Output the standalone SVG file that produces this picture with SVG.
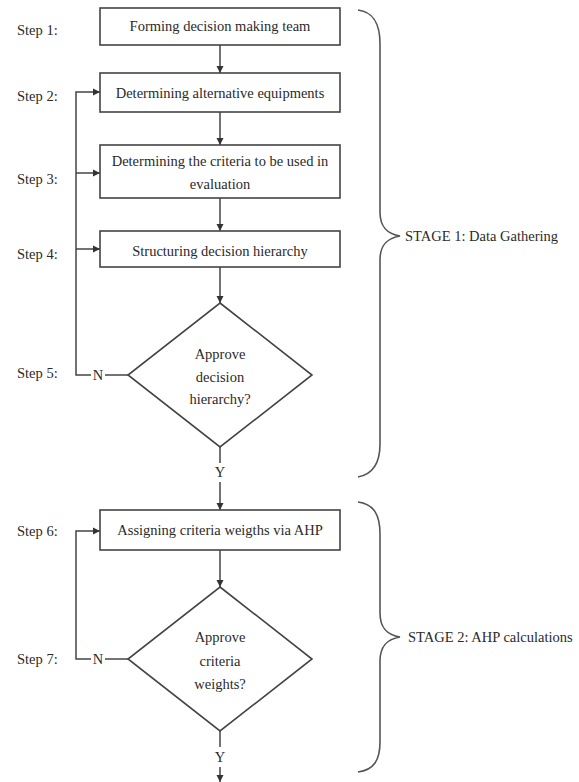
<svg xmlns="http://www.w3.org/2000/svg" width="579" height="782" viewBox="0 0 579 782">
<style>
.box{fill:#fff;stroke:#444;stroke-width:1.6}
.ln{fill:none;stroke:#444;stroke-width:1.5}
text{font-family:'Liberation Serif','Times New Roman',Times,serif;font-size:14.5px;fill:#2a2a2a}
.t{text-anchor:middle}
.br{fill:none;stroke:#555;stroke-width:1.6}
</style>
<defs>
<marker id="ah" markerWidth="8" markerHeight="8" refX="7" refY="4" orient="auto" markerUnits="userSpaceOnUse">
<path d="M0,0.5 L7,4 L0,7.5 Z" fill="#333"/>
</marker>
</defs>
<rect width="579" height="782" fill="#fff"/>
<g id="labels" font-family="Liberation Serif, serif">
<text x="17" y="35">Step 1:</text>
<text x="17" y="101">Step 2:</text>
<text x="17" y="184">Step 3:</text>
<text x="17" y="259">Step 4:</text>
<text x="17" y="378">Step 5:</text>
<text x="17" y="536">Step 6:</text>
<text x="17" y="664">Step 7:</text>
</g>
<g id="connectors">
<line class="ln" x1="220" y1="45" x2="220" y2="73" marker-end="url(#ah)"/>
<line class="ln" x1="220" y1="112" x2="220" y2="145" marker-end="url(#ah)"/>
<line class="ln" x1="220" y1="198" x2="220" y2="231" marker-end="url(#ah)"/>
<line class="ln" x1="220" y1="267" x2="220" y2="303" marker-end="url(#ah)"/>
<line class="ln" x1="220" y1="447" x2="220" y2="463"/>
<line class="ln" x1="220" y1="482" x2="220" y2="510" marker-end="url(#ah)"/>
<line class="ln" x1="220" y1="550" x2="220" y2="587" marker-end="url(#ah)"/>
<line class="ln" x1="220" y1="731" x2="220" y2="747"/>
<line class="ln" x1="220" y1="767" x2="220" y2="782" marker-end="url(#ah)"/>
<path class="ln" d="M91,375 H76 V92 H100" marker-end="url(#ah)"/>
<line class="ln" x1="76" y1="173" x2="100" y2="173" marker-end="url(#ah)"/>
<line class="ln" x1="76" y1="249" x2="100" y2="249" marker-end="url(#ah)"/>
<line class="ln" x1="105" y1="375" x2="128" y2="375"/>
<path class="ln" d="M91,659 H76 V531 H100" marker-end="url(#ah)"/>
<line class="ln" x1="105" y1="659" x2="128" y2="659"/>
<text class="t" x="98" y="380">N</text>
<text class="t" x="98" y="664">N</text>
<text class="t" x="220" y="477">Y</text>
<text class="t" x="220" y="762">Y</text>
</g>
<g id="step1">
<rect class="box" x="100" y="8" width="240" height="37"/>
<text class="t" x="220" y="31">Forming decision making team</text>
</g>
<g id="step2">
<rect class="box" x="100" y="73" width="240" height="39"/>
<text class="t" x="220" y="98">Determining alternative equipments</text>
</g>
<g id="step3">
<rect class="box" x="100" y="145" width="240" height="53"/>
<text class="t" x="220" y="166">Determining the criteria to be used in</text>
<text class="t" x="220" y="189">evaluation</text>
</g>
<g id="step4">
<rect class="box" x="100" y="231" width="240" height="36"/>
<text class="t" x="220" y="256">Structuring decision hierarchy</text>
</g>
<g id="step5">
<polygon class="box" points="220,303 312,375 220,447 128,375"/>
<text class="t" x="220" y="359">Approve</text>
<text class="t" x="220" y="382">decision</text>
<text class="t" x="220" y="404">hierarchy?</text>
</g>
<g id="step6">
<rect class="box" x="100" y="510" width="240" height="40"/>
<text class="t" x="220" y="535">Assigning criteria weigths via AHP</text>
</g>
<g id="step7">
<polygon class="box" points="220,587 312,659 220,731 128,659"/>
<text class="t" x="220" y="642">Approve</text>
<text class="t" x="220" y="666">criteria</text>
<text class="t" x="220" y="689">weights?</text>
</g>
<g id="stage1">
<path class="br" d="M358,10 C374,12 380,24 380,44 L380,212 C380,228 388,234 400,236 C388,238 380,244 380,260 L380,444 C380,462 374,474 358,477"/>
<text x="405" y="241">STAGE 1: Data Gathering</text>
</g>
<g id="stage2">
<path class="br" d="M358,502 C374,504 380,515 380,534 L380,613 C380,629 388,635 400,637 C388,639 380,645 380,661 L380,742 C380,760 374,770 358,772"/>
<text x="408" y="642">STAGE 2: AHP calculations</text>
</g>
</svg>
